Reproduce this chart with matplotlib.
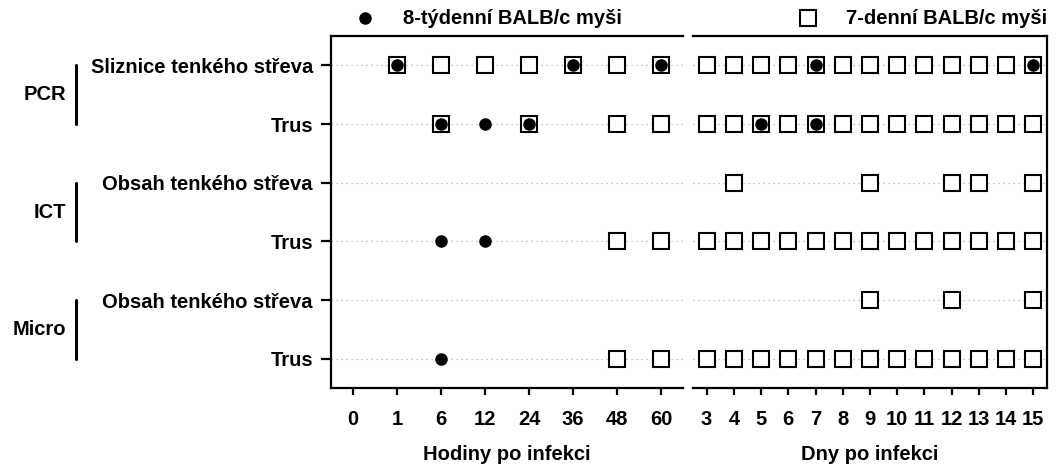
import matplotlib.pyplot as plt
import matplotlib.transforms as mtransforms

plt.rcParams['font.family'] = ['Liberation Sans', 'DejaVu Sans']
plt.rcParams['font.weight'] = 'bold'

# categories
hours = [0, 1, 6, 12, 24, 36, 48, 60]
days = [3, 4, 5, 6, 7, 8, 9, 10, 11, 12, 13, 14, 15]
row_labels = ['Sliznice tenkého střeva', 'Trus', 'Obsah tenkého střeva', 'Trus',
              'Obsah tenkého střeva', 'Trus']
groups = ['PCR', 'ICT', 'Micro']

# 8-week mice (hours, filled circles) / 7-day mice (open squares)
square_hours = [[1, 6, 12, 24, 36, 48, 60], [6, 24, 48, 60], [], [48, 60], [], [48, 60]]
circle_hours = [[1, 36, 60], [6, 12, 24], [], [6, 12], [], [6]]
square_days = [[3, 4, 5, 6, 7, 8, 9, 10, 11, 12, 13, 14, 15],
               [3, 4, 5, 6, 7, 8, 9, 10, 11, 12, 13, 14, 15],
               [4, 9, 12, 13, 15],
               [3, 4, 5, 6, 7, 8, 9, 10, 11, 12, 13, 14, 15],
               [9, 12, 15],
               [3, 4, 5, 6, 7, 8, 9, 10, 11, 12, 13, 14, 15]]
circle_days = [[7, 15], [5, 7], [], [], [], []]

FS = 14.5
W, H = 1056, 475
fig = plt.figure(figsize=(W / 100, H / 100), dpi=100)
ax1 = fig.add_axes([331 / W, 1 - 388 / H, 352 / W, 352 / H])
ax2 = fig.add_axes([693 / W, 1 - 388 / H, 354 / W, 352 / H])

sq_kw = dict(marker='s', ms=11.5, mfc='white', mec='black', mew=1.5, ls='none', zorder=3)
ci_kw = dict(marker='o', ms=8, color='black', ls='none', zorder=4)


def draw_panel(ax, cats, squares, circles):
    for i in range(len(row_labels)):
        y = i + 1
        xs = [cats.index(v) for v in squares[i]]
        ax.plot(xs, [y] * len(xs), clip_on=False, **sq_kw)
        xc = [cats.index(v) for v in circles[i]]
        ax.plot(xc, [y] * len(xc), clip_on=False, **ci_kw)
    ax.set_xlim(-0.5, len(cats) - 0.5)
    ax.set_ylim(len(row_labels) + 0.5, 0.5)
    ax.set_xticks(range(len(cats)))
    ax.set_xticklabels([str(c) for c in cats], fontsize=FS, fontweight='bold')
    ax.set_yticks(range(1, len(row_labels) + 1))
    ax.yaxis.grid(True, ls=(0, (1, 3)), color='#b0b0b0', lw=0.9)
    ax.set_axisbelow(True)
    for s in ax.spines.values():
        s.set_linewidth(1.6)
    ax.tick_params(axis='x', length=5, width=1.6, pad=11)


draw_panel(ax1, hours, square_hours, circle_hours)
draw_panel(ax2, days, square_days, circle_days)

ax1.spines['right'].set_visible(False)
ax1.set_yticklabels(row_labels, fontsize=FS, fontweight='bold')
ax1.tick_params(axis='y', length=7, width=1.6, pad=6)

ax2.spines['left'].set_visible(False)
ax2.tick_params(axis='y', length=0, labelleft=False)

ax1.set_xlabel('Hodiny po infekci', fontsize=FS, fontweight='bold', labelpad=11)
ax2.set_xlabel('Dny po infekci', fontsize=FS, fontweight='bold', labelpad=11)

# legend above panels
ax1.plot([0.097], [1.051], transform=ax1.transAxes, clip_on=False, **ci_kw)
ax1.text(0.2045, 1.051, '8-týdenní BALB/c myši', transform=ax1.transAxes,
         fontsize=FS, fontweight='bold', va='center', ha='left')
ax2.plot([0.325], [1.051], transform=ax2.transAxes, clip_on=False, **sq_kw)
ax2.text(1.0, 1.051, '7-denní BALB/c myši', transform=ax2.transAxes,
         fontsize=FS, fontweight='bold', va='center', ha='right')

# method group brackets
trans = mtransforms.blended_transform_factory(fig.transFigure, ax1.transData)
for k, g in enumerate(groups):
    y0, y1 = 2 * k + 1, 2 * k + 2
    ax1.plot([76 / W, 76 / W], [y0, y1], transform=trans, clip_on=False,
             color='black', lw=2.2, solid_capstyle='round')
    ax1.text(66 / W, (y0 + y1) / 2, g, transform=trans, fontsize=FS,
             fontweight='bold', ha='right', va='center')

fig.savefig('out.png', dpi=100)
